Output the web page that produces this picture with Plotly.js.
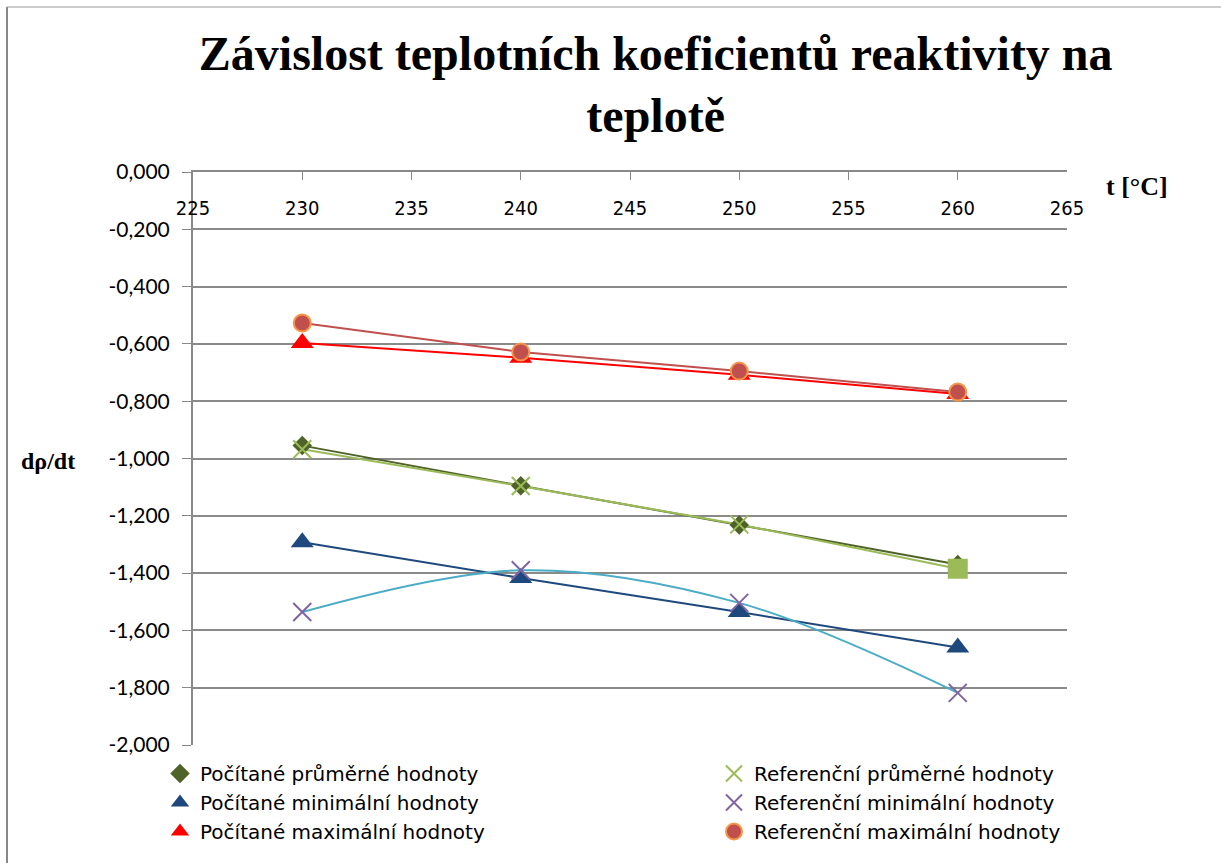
<!DOCTYPE html>
<html>
<head>
<meta charset="utf-8">
<script src="https://cdn.plot.ly/plotly-3.0.1.min.js"></script>
<style>html,body{margin:0;padding:0;background:#fff;}</style>
</head>
<body>
<div id="chart" style="width:1221px;height:863px;"></div>
<script>
const temps = [230, 240, 250, 260];
const calcAvg = [-0.955, -1.095, -1.232, -1.370];
const refAvg  = [-0.968, -1.096, -1.230, -1.385];
const calcMin = [-1.292, -1.417, -1.536, -1.660];
const refMin  = [-1.536, -1.390, -1.504, -1.818];
const calcMax = [-0.597, -0.648, -0.708, -0.775];
const refMax  = [-0.527, -0.628, -0.695, -0.768];
const refAvgSymbols = ['x-thin-open', 'x-thin-open', 'x-thin-open', 'square'];
const yTickVals = [0, -0.2, -0.4, -0.6, -0.8, -1.0, -1.2, -1.4, -1.6, -1.8, -2.0];
const yTickText = ['0,000', '-0,200', '-0,400', '-0,600', '-0,800', '-1,000', '-1,200', '-1,400', '-1,600', '-1,800', '-2,000'];
const xTickVals = [225, 230, 235, 240, 245, 250, 255, 260, 265];
const names = ['Počítané průměrné hodnoty', 'Referenční průměrné hodnoty',
  'Počítané minimální hodnoty', 'Referenční minimální hodnoty',
  'Počítané maximální hodnoty', 'Referenční maximální hodnoty'];

const lineTrace = (y, color, shape) => ({
  x: temps, y: y, mode: 'lines', showlegend: false, hoverinfo: 'skip',
  line: {color: color, width: 2, shape: shape || 'linear', smoothing: 1.0}
});

const traces = [
  lineTrace(refMax, '#C0504D'),
  lineTrace(calcMax, '#FF0000'),
  lineTrace(calcAvg, '#4F6228'),
  lineTrace(refAvg, '#9BBB59'),
  lineTrace(calcMin, '#1F497D'),
  lineTrace(refMin, '#4BACC6', 'spline'),
  {x: temps, y: calcAvg, name: names[0], mode: 'markers', legend: 'legend',
   marker: {symbol: 'diamond', size: 15, color: '#4F6228'}},
  {x: temps, y: calcMin, name: names[2], mode: 'markers', legend: 'legend',
   marker: {symbol: 'triangle-up', size: 20, color: '#1F497D'}},
  {x: temps, y: calcMax, name: names[4], mode: 'markers', legend: 'legend',
   marker: {symbol: 'triangle-up', size: 20, color: '#FF0000'}},
  {x: temps, y: refAvg, name: names[1], mode: 'markers', legend: 'legend2',
   marker: {symbol: refAvgSymbols, size: 18, color: '#9BBB59', line: {color: '#9BBB59', width: 2}}},
  {x: temps, y: refMin, name: names[3], mode: 'markers', legend: 'legend2',
   marker: {symbol: 'x-thin-open', size: 18, color: '#8064A2', line: {color: '#8064A2', width: 2}}},
  {x: temps, y: refMax, name: names[5], mode: 'markers', legend: 'legend2',
   marker: {symbol: 'circle', size: 17, color: '#C0504D', line: {color: '#F79646', width: 2}}},
  {x: temps, y: calcAvg, xaxis: 'x2', mode: 'markers', showlegend: false, hoverinfo: 'skip',
   marker: {opacity: 0, size: 1}}
];

const PL = 193, PR = 1067, PT = 172, PB = 745;
const pw = PR - PL, ph = PB - PT;
const px = p => (p - PL) / pw;
const py = p => (PB - p) / ph;

const legendFont = {family: '"DejaVu Sans", "Open Sans", sans-serif', size: 20, color: '#000'};

const layout = {
  width: 1221, height: 863,
  margin: {l: PL, r: 1221 - PR, t: PT, b: 863 - PB, pad: 0, autoexpand: false},
  paper_bgcolor: '#ffffff', plot_bgcolor: '#ffffff',
  font: {family: 'Lato, "Open Sans", sans-serif', color: '#000000'},
  title: {
    text: 'Závislost teplotních koeficientů reaktivity na<br>teplotě',
    font: {family: '"Liberation Serif", "Times New Roman", serif', size: 48, color: '#000', weight: 'bold'},
    x: 0.537, xanchor: 'center', y: 1 - 70 / 863, yanchor: 'middle', yref: 'container'
  },
  xaxis: {
    range: [225, 265], side: 'top', tickvals: xTickVals, showticklabels: false,
    ticks: 'inside', ticklen: 8, tickcolor: '#898989', tickwidth: 1,
    showline: true, linecolor: '#898989', linewidth: 2,
    showgrid: false, zeroline: false, fixedrange: true
  },
  xaxis2: {
    overlaying: 'x', matches: 'x', anchor: 'free', position: py(219), side: 'top',
    tickvals: xTickVals, ticks: '', showline: false, showgrid: false, zeroline: false,
    tickfont: {family: '"DejaVu Sans Condensed", "Liberation Sans Narrow", Lato, sans-serif', size: 20, color: '#000'},
    fixedrange: true
  },
  yaxis: {
    range: [-2.0, 0], tickvals: yTickVals, ticktext: yTickText,
    ticks: 'outside', ticklen: 9, tickcolor: '#898989', tickwidth: 1,
    ticklabelstandoff: 8,
    tickfont: {family: 'Lato, "Open Sans", sans-serif', size: 21, color: '#000'},
    showline: true, linecolor: '#898989', linewidth: 2,
    showgrid: true, gridcolor: '#8a8a8a', gridwidth: 2,
    zeroline: false, fixedrange: true
  },
  legend: {
    orientation: 'v', x: px(160), xanchor: 'left', y: py(754), yanchor: 'top',
    font: legendFont, bgcolor: 'rgba(0,0,0,0)', itemclick: false, tracegroupgap: 0
  },
  legend2: {
    orientation: 'v', x: px(714), xanchor: 'left', y: py(754), yanchor: 'top',
    font: legendFont, bgcolor: 'rgba(0,0,0,0)', itemclick: false, tracegroupgap: 0
  },
  annotations: [
    {text: '<b>t [°C]</b>', xref: 'paper', yref: 'paper', x: px(1104), y: py(186),
     xanchor: 'left', yanchor: 'middle', showarrow: false,
     font: {family: '"Liberation Serif", "Times New Roman", serif', size: 26, color: '#000'}},
    {text: '<b>dρ/dt</b>', xref: 'paper', yref: 'paper', x: px(48), y: py(461),
     xanchor: 'center', yanchor: 'middle', showarrow: false,
     font: {family: '"Liberation Serif", "Times New Roman", serif', size: 24, color: '#000'}}
  ],
  shapes: [
    {type: 'line', xref: 'paper', yref: 'paper', x0: px(7), x1: px(7), y0: py(7), y1: py(863),
     line: {color: '#878787', width: 2}},
    {type: 'line', xref: 'paper', yref: 'paper', x0: px(7), x1: px(1221), y0: py(7), y1: py(7),
     line: {color: '#9a9a9a', width: 1}}
  ],
  showlegend: true
};

Plotly.newPlot('chart', traces, layout, {displayModeBar: false, staticPlot: true});
</script>
</body>
</html>
